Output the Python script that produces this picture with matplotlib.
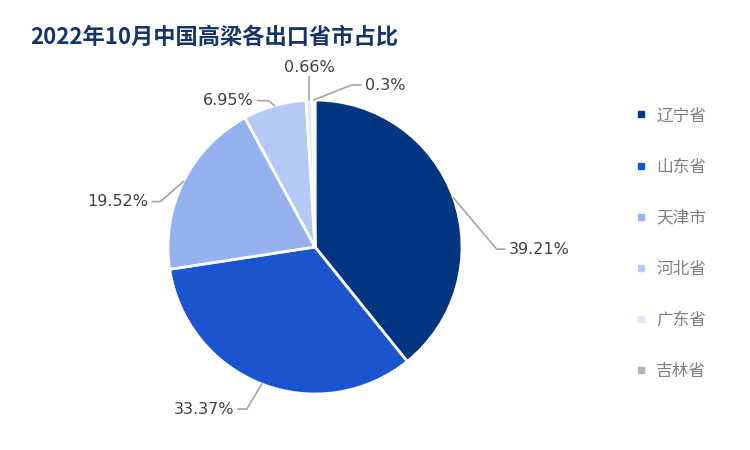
import matplotlib.pyplot as plt
import numpy as np
from matplotlib.lines import Line2D

plt.rcParams['font.family'] = ['Noto Sans CJK SC', 'DejaVu Sans']

# Data
provinces = ['辽宁省', '山东省', '天津市', '河北省', '广东省', '吉林省']
shares = [39.21, 33.37, 19.52, 6.95, 0.66, 0.3]
labels = ['39.21%', '33.37%', '19.52%', '6.95%', '0.66%', '0.3%']
title = '2022年10月中国高梁各出口省市占比'

colors = ['#023580', '#1a54cf', '#93b2ef', '#b4c9f6', '#dce6fb', '#b3b3b3']

# leader line: (elbow offset px, horizontal tail px)
leaders = [((43, -51), 8), ((-15, -25), -9), ((-23, -20), -8),
           ((-6, 5), -11), ((0, 23), 0), ((38, 15), 9)]

fig = plt.figure(figsize=(7.5, 4.5), dpi=100)
R = 147
cx, cy = 315, 450 - 247
ax = fig.add_axes([(cx - R) / 750, (cy - R) / 450, 2 * R / 750, 2 * R / 450])

wedges, _ = ax.pie(shares, colors=colors, startangle=90, counterclock=False,
                   wedgeprops=dict(edgecolor='white', linewidth=2))
ax.set_xlim(-1, 1)
ax.set_ylim(-1, 1)
ax.set_aspect('equal')
ax.axis('off')

to_data = ax.transData.inverted()
for w, lab, ((dx, dy), tail) in zip(wedges, labels, leaders):
    ang = np.deg2rad((w.theta1 + w.theta2) / 2)
    p0 = ax.transData.transform((np.cos(ang), np.sin(ang)))
    p1 = p0 + np.array([dx, dy])
    p2 = p1 + np.array([tail, 0])
    pts = to_data.transform([p0, p1, p2])
    ax.plot(pts[:, 0], pts[:, 1], color='#a6a6a6', lw=1.2, clip_on=False)
    if tail > 0:
        tp, ha, va = p2 + np.array([4, 0]), 'left', 'center'
    elif tail < 0:
        tp, ha, va = p2 + np.array([-4, 0]), 'right', 'center'
    else:
        tp, ha, va = p2 + np.array([0, 2]), 'center', 'bottom'
    tx, ty = to_data.transform(tp)
    ax.text(tx, ty, lab, ha=ha, va=va, fontsize=11.5, color='#404040',
            family=['DejaVu Sans'])

fig.text(30 / 750, 1 - 37 / 450, title, fontsize=16, fontweight='bold',
         color='#15346b', ha='left', va='center')

handles = [Line2D([], [], marker='s', ls='', color=c, markersize=5) for c in colors]
leg = fig.legend(handles, provinces, loc='upper left',
                 bbox_to_anchor=(628 / 750, 1 - 99 / 450), frameon=False,
                 fontsize=12, labelcolor='#7f7f7f', handlelength=0.6,
                 handletextpad=0.6, labelspacing=2.05, borderpad=0)

fig.savefig('out.png', dpi=100)
